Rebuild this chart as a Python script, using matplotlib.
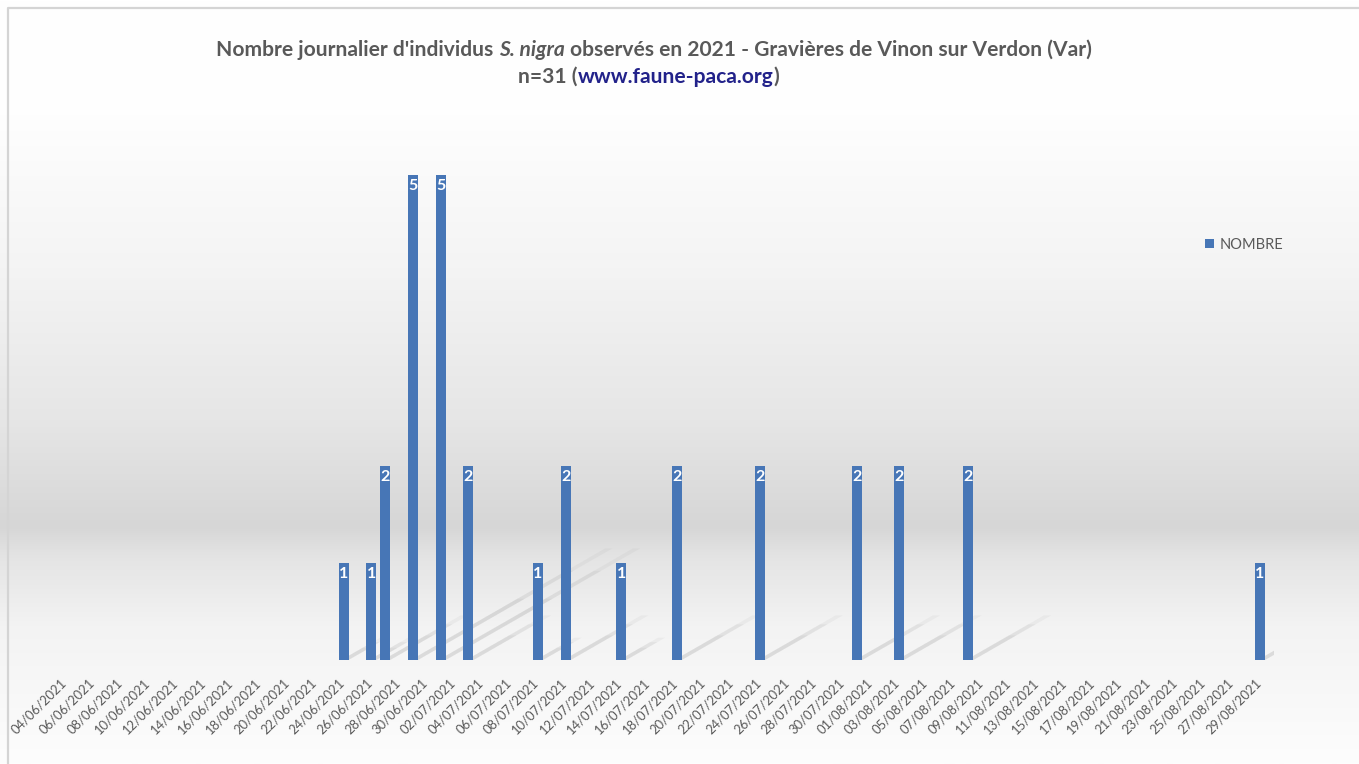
import numpy as np
import pandas as pd
import matplotlib
matplotlib.use('Agg')
import matplotlib.pyplot as plt
from matplotlib.patches import Polygon
from matplotlib.colors import LinearSegmentedColormap
import matplotlib.transforms as mtrans

plt.rcParams['font.family'] = ['Lato', 'DejaVu Sans']

# jours observes et nombre d'individus
obs_dates = ['24/06/2021', '26/06/2021', '27/06/2021', '29/06/2021', '01/07/2021',
             '03/07/2021', '08/07/2021', '10/07/2021', '14/07/2021', '18/07/2021',
             '24/07/2021', '31/07/2021', '03/08/2021', '08/08/2021', '29/08/2021']
obs_counts = [1, 1, 2, 5, 5, 2, 1, 2, 1, 2, 2, 2, 2, 2, 1]
first_day = '2021-06-04'
last_day = '2021-08-29'
series_name = 'NOMBRE'

days = pd.date_range(first_day, last_day, freq='D')
labels = [d.strftime('%d/%m/%Y') for d in days]
counts = pd.Series(0, index=labels)
counts[obs_dates] = obs_counts

W, H = 1359, 764
fig = plt.figure(figsize=(W / 100, H / 100), dpi=100)

# fond en degrade (style excel)
bg = fig.add_axes([0, 0, 1, 1], zorder=-5)
stops = [(0.0, '#ffffff'), (0.15, '#fefefe'), (0.35, '#f4f4f4'), (0.55, '#e6e6e6'),
         (0.69, '#d6d6d6'), (0.73, '#e4e4e4'), (0.82, '#f3f3f3'), (1.0, '#fdfdfd')]
cmap = LinearSegmentedColormap.from_list('bg', stops)
bg.imshow(np.linspace(0, 1, 256).reshape(-1, 1), aspect='auto', cmap=cmap,
          extent=[0, 1, 0, 1], origin='upper')
bg.plot([8 / W, 8 / W, 1], [0, 1 - 8 / H, 1 - 8 / H], color='#d4d4d4', lw=1.6)
bg.set_xlim(0, 1)
bg.set_ylim(0, 1)
bg.axis('off')

ax = fig.add_axes([51.9 / W, 104 / H, 1222 / W, 582 / H])
ax.patch.set_alpha(0)
x = np.arange(len(counts))
bw = 0.72

# ombres portees des barres
for xi, v in zip(x, counts.values):
    if v == 0:
        continue
    for frac, a in [(1.0, 0.07), (0.8, 0.08), (0.55, 0.08)]:
        L = frac * v
        poly = Polygon([(xi - bw / 2 + 0.2, 0), (xi + bw / 2, 0),
                        (xi + bw / 2 + 2.8 * L, 0.23 * L), (xi - bw / 2 + 0.2 + 2.8 * L, 0.23 * L)],
                       closed=True, color='#808080', alpha=a, lw=0, zorder=1)
        ax.add_patch(poly)

bars = ax.bar(x, counts.values, width=bw, color='#4776b6', zorder=3, label=series_name)
for xi, v in zip(x, counts.values):
    if v > 0:
        ax.annotate(str(v), (xi, v), xytext=(0, -4), textcoords='offset pixels',
                    ha='center', va='top', color='white', fontsize=11.5,
                    fontweight='bold', zorder=4)

ax.set_xlim(-1, 87)
ax.set_ylim(0, 6)
ax.set_yticks([])
ax.set_xticks([])
# etiquettes de dates (un jour sur deux), inclinees a 45 degres
off = mtrans.ScaledTranslation(-1 / 100, -21 / 100, fig.dpi_scale_trans)
for xi in x[::2]:
    ax.text(xi, 0, labels[xi], transform=ax.get_xaxis_transform() + off,
            rotation=45, rotation_mode='anchor', ha='right', va='center',
            fontsize=9.4, color='#595959', clip_on=False)
for s in ax.spines.values():
    s.set_visible(False)

ax.legend(loc='center left', bbox_to_anchor=(1205 / W, 1 - 245 / H),
          bbox_transform=fig.transFigure, frameon=False, fontsize=10.5,
          handlelength=0.6, handleheight=0.6, handletextpad=0.4,
          labelcolor='#595959', borderpad=0, borderaxespad=0)

# titre avec styles mixtes
renderer = fig.canvas.get_renderer()


def draw_line(pieces, xc, yc, size, spaced=True):
    objs = []
    for s, kw in pieces:
        objs.append(fig.text(0, 1 - yc / H, s, fontsize=size, ha='left', va='center',
                             fontweight='bold', **kw))
    gap = 0
    if spaced:
        probe1 = fig.text(0, 0, 'x x', fontsize=size, fontweight='bold')
        probe2 = fig.text(0, 0, 'xx', fontsize=size, fontweight='bold')
        gap = probe1.get_window_extent(renderer).width - probe2.get_window_extent(renderer).width
        probe1.remove()
        probe2.remove()
    widths = [o.get_window_extent(renderer).width for o in objs]
    total = sum(widths) + gap * (len(objs) - 1)
    xp = xc - total / 2
    for o, w in zip(objs, widths):
        o.set_x(xp / W)
        xp += w + gap


grey = '#595959'
draw_line([("Nombre journalier d'individus", dict(color=grey)),
           ('S. nigra', dict(color=grey, style='italic')),
           ('observés en 2021 - Gravières de Vinon sur Verdon (Var)', dict(color=grey))],
          654, 50, 15.1)
draw_line([('n=31 (', dict(color=grey)),
           ('www.faune-paca.org', dict(color='#22228a')),
           (')', dict(color=grey))], 649, 77, 15.1, spaced=False)

plt.savefig('out.png', dpi=100)
